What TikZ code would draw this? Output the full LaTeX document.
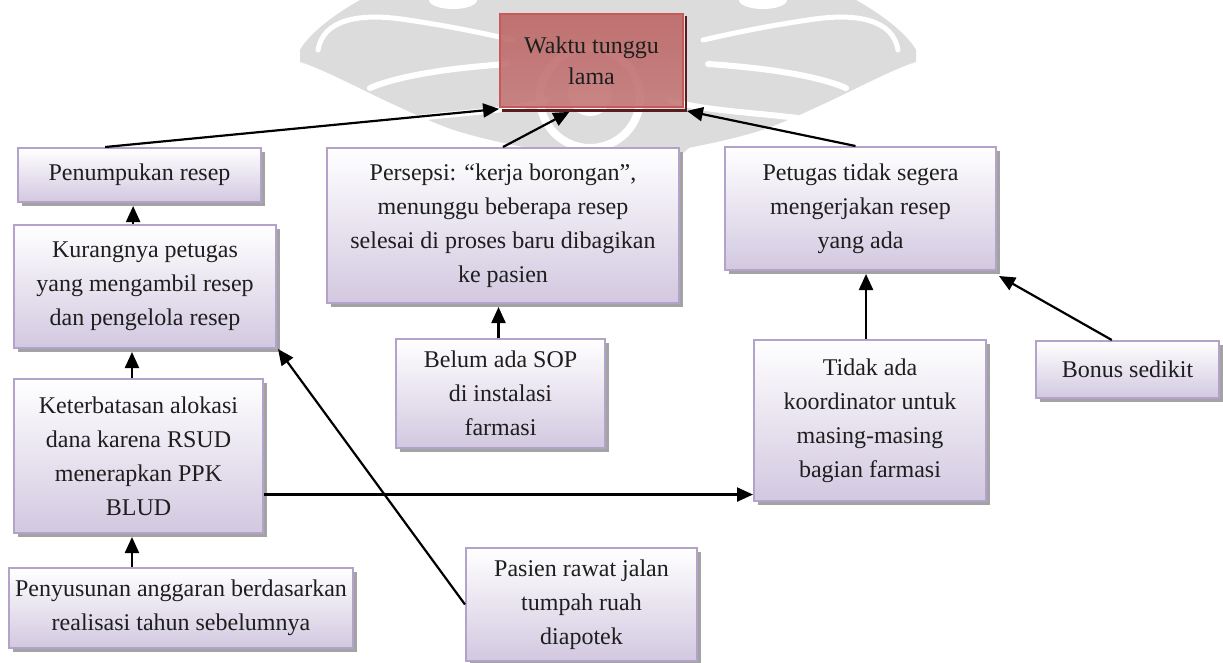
\documentclass[tikz,border=0pt]{standalone}
\usepackage{fontspec}
\setmainfont{Liberation Serif}
\usetikzlibrary{arrows.meta,calc,shadows}

\definecolor{boxline}{HTML}{B3A3CB}
\definecolor{boxbot}{HTML}{D2C8E0}
\definecolor{shadowgray}{HTML}{A3A3A3}
\definecolor{redtop}{HTML}{BD6666}
\definecolor{redmid}{HTML}{9E3C3C}
\definecolor{redbot}{HTML}{C47878}
\definecolor{redline}{HTML}{C45A5A}
\definecolor{redshadow}{HTML}{5A1C1C}
\definecolor{wmgray}{HTML}{DCDCDC}
\definecolor{txt}{HTML}{1E1E1E}

\begin{document}
\begin{tikzpicture}[x=1pt,y=-1pt,
  cause/.style={draw=boxline, line width=2pt, top color=white, bottom color=boxbot,
    align=center, inner sep=0pt, text=txt, font=\fontsize{24}{34}\selectfont,
    drop shadow={shadow xshift=3.5pt, shadow yshift=-3.5pt, fill=shadowgray, opacity=1}},
  effect/.style={draw=redline, line width=1.8pt, top color=redtop, middle color=redmid,
    bottom color=redbot, fill opacity=0.9, text opacity=1, align=center, inner sep=0pt,
    text=txt, font=\fontsize{24}{31}\selectfont},
  arr/.style={-{Triangle[length=16pt,width=14pt]}, line width=2.2pt, black},
  gap/.style={draw=white, line cap=round}]
\useasboundingbox (0,0) rectangle (1223,662);

% faint emblem in the background: two drooping wings around a ringed eye
\begin{scope}[shift={(608,0)}]
  \fill[wmgray] (0,108) ellipse (100 and 68);
  \foreach \s in {1,-1} {
    \begin{scope}[xscale=\s]
      \fill[wmgray] (0,0) -- (-248,0) .. controls (-275,15) and (-300,35) .. (-308,50)
        -- (-308,62) .. controls (-280,70) and (-220,105) .. (-160,128)
        .. controls (-120,142) and (-60,152) .. (0,162) -- cycle;
      \draw[gap, line width=5pt] (-290,50) .. controls (-285,20) and (-250,12) .. (-200,20)
        .. controls (-160,26) and (-130,32) .. (-95,40);
      \draw[gap, line width=6pt] (-238,88) .. controls (-210,76) and (-160,68) .. (-100,64);
      \draw[gap, line width=6pt] (-190,118) .. controls (-140,112) and (-90,110) .. (-62,100);
      \fill[white] (-155,0) ellipse (24 and 9);
    \end{scope}
  }
  \draw[white, line width=8pt] (-18,98) circle (50);
  \fill[white] (-18,94) circle (22);
\end{scope}

% effect
\node[effect, minimum width=183pt, minimum height=93pt] (red) at (591.5,60.5) {Waktu tunggu\\lama};
\fill[redshadow] ($(red.south west)+(3,1)$) rectangle ($(red.south east)+(3,4)$);
\fill[redshadow] ($(red.north east)+(1,3)$) rectangle ($(red.south east)+(3,4)$);

% causes
\node[cause, minimum width=243pt, minimum height=54pt]  (pen)  at (139.5,175)   {Penumpukan resep};
\node[cause, minimum width=262pt, minimum height=123pt] (kur)  at (145,286.5)   {Kurangnya petugas\\yang mengambil resep\\dan pengelola resep};
\node[cause, minimum width=249pt, minimum height=154pt] (ket)  at (138.5,456)   {Keterbatasan alokasi\\dana karena RSUD\\menerapkan PPK\\BLUD};
\node[cause, minimum width=344pt, minimum height=80pt]  (pys)  at (181,608)     {Penyusunan anggaran berdasarkan\\realisasi tahun sebelumnya};
\node[cause, minimum width=352pt, minimum height=155pt] (pers) at (503,225.5)   {Persepsi: “kerja borongan”,\\menunggu beberapa resep\\selesai di proses baru dibagikan\\ke pasien};
\node[cause, minimum width=271pt, minimum height=123pt] (pet)  at (860.5,208.5) {Petugas tidak segera\\mengerjakan resep\\yang ada};
\node[cause, minimum width=209pt, minimum height=109pt] (bel)  at (500.5,393.5) {Belum ada SOP\\di instalasi\\farmasi};
\node[cause, minimum width=231pt, minimum height=113pt] (pas)  at (581.5,604.5) {Pasien rawat jalan\\tumpah ruah\\diapotek};
\node[cause, minimum width=232pt, minimum height=161pt] (tid)  at (870,420.5)   {Tidak ada\\koordinator untuk\\masing-masing\\bagian farmasi};
\node[cause, minimum width=183pt, minimum height=57pt]  (bon)  at (1127.5,369.5) {Bonus sedikit};

% connectors
\draw[arr] ($(pen.north west)!0.36!(pen.north east)$) -- ($(red.south west)+(0,1)$);
\draw[arr] (pers.north) -- ($(red.south west)!0.38!(red.south east)+(0,4)$);
\draw[arr] ($(pet.north)+(-5,0)$) -- ($(red.south east)+(3,3)$);

\coordinate (k1) at ($(kur.north west)!0.455!(kur.north east)$);
\draw[arr] (k1) -- ($(k1 |- pen.south)+(0,3)$);
\coordinate (k2) at ($(ket.north west)!0.474!(ket.north east)$);
\draw[arr] (k2) -- ($(k2 |- kur.south)+(0,3)$);
\coordinate (k3) at (pys.north -| k2);
\draw[arr] (k3) -- ($(k3 |- ket.south)+(0,3)$);
\coordinate (k4) at ($(bel.north)+(-2,0)$);
\draw[arr] (k4) -- ($(k4 |- pers.south)+(0,3)$);
\coordinate (k5) at ($(tid.north west)!0.483!(tid.north east)$);
\draw[arr] (k5) -- ($(k5 |- pet.south)+(0,3)$);
\draw[arr] ($(bon.north west)!0.415!(bon.north east)$) -- ($(pet.south east)+(2,5)$);
\coordinate (k6) at ($(ket.north east)!0.747!(ket.south east)$);
\draw[arr] (k6) -- (k6 -| tid.west);
\draw[arr] (pas.west) -- ($(kur.south east)+(1,0)$);
\end{tikzpicture}
\end{document}
